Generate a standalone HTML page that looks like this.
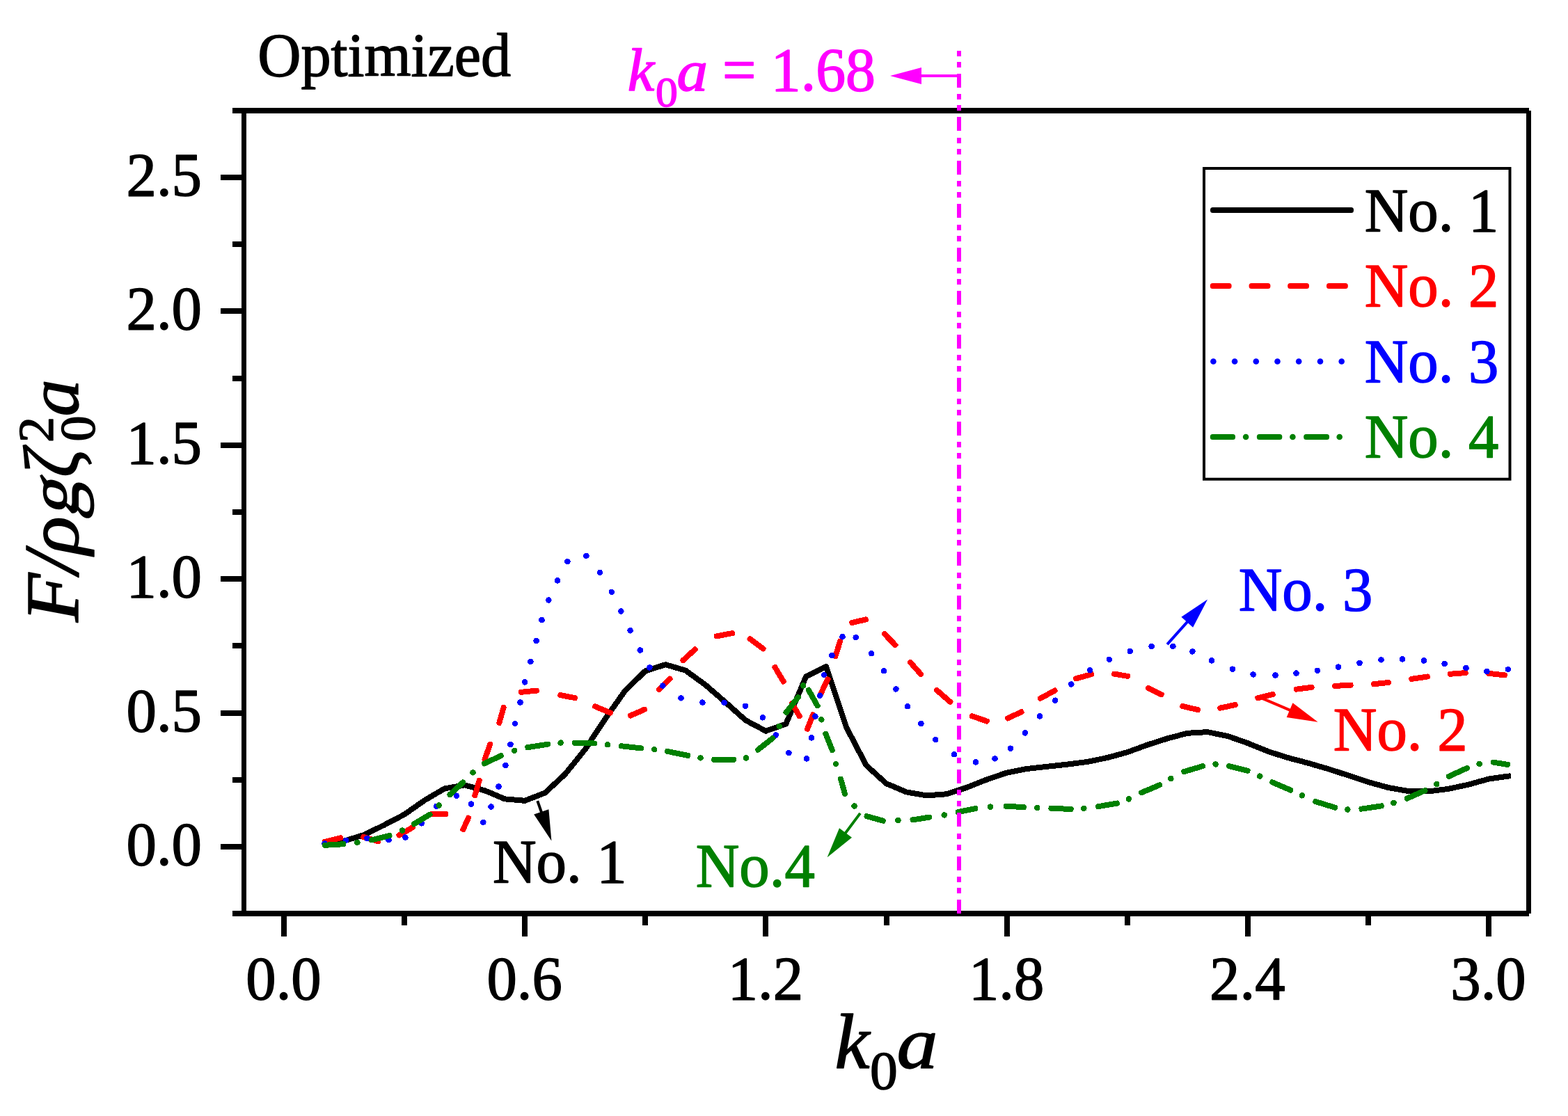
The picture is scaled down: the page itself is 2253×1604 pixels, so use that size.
<!DOCTYPE html>
<html lang="en"><head><meta charset="utf-8"><title>Optimized</title>
<style>html,body{margin:0;padding:0;background:#fff}body{width:2253px;height:1604px;overflow:hidden}svg{display:block}text{font-family:'Liberation Serif', serif;stroke-width:1.5;paint-order:stroke fill;stroke-linejoin:round}</style></head><body>
<svg width="2253" height="1604" viewBox="0 0 2253 1604" role="img" aria-label="Optimized: F/rho g zeta0^2 a versus k0 a for No. 1 to No. 4">
<rect x="0" y="0" width="2253" height="1604" fill="#fff"/>
<g id="curves" shape-rendering="crispEdges">
<polyline points="465.7,1213.5 494.6,1208.6 523.4,1199.9 552.2,1185.7 581.1,1170.6 610.0,1150.3 638.8,1133.4 667.7,1128.4 696.5,1136.2 725.4,1148.4 754.2,1150.8 783.0,1139.6 811.9,1112.8 840.8,1077.0 869.6,1033.2 898.5,992.3 927.3,964.4 956.2,955.2 985.0,963.6 1013.9,984.6 1042.7,1009.6 1071.6,1035.4 1100.4,1050.7 1129.2,1040.6 1158.1,972.5 1187.0,958.2 1215.8,1044.7 1244.7,1100.0 1273.5,1126.2 1302.4,1138.4 1331.2,1143.4 1360.1,1141.3 1388.9,1131.9 1417.8,1120.5 1446.6,1110.6 1475.5,1105.0 1504.3,1101.8 1533.2,1098.7 1562.0,1095.0 1590.9,1089.1 1619.7,1081.2 1648.6,1070.6 1677.4,1061.4 1706.2,1053.8 1735.1,1052.1 1764.0,1058.0 1792.8,1068.1 1821.7,1079.9 1850.5,1089.1 1879.4,1096.7 1908.2,1105.1 1937.1,1114.4 1965.9,1124.0 1994.8,1132.0 2023.6,1137.1 2052.4,1137.5 2081.3,1133.8 2110.2,1127.6 2139.0,1119.6 2167.9,1115.5 2170.9,1115.1" fill="none" stroke="#000" stroke-width="8.00" stroke-linejoin="round" stroke-linecap="butt"/>
<g id="red">
<rect x="463.0" y="1206.8" width="30.9" height="8.00" rx="3.5" fill="#ff0000" transform="rotate(-14.04 463.0 1210.8)"/>
<rect x="518.5" y="1197.8" width="29.8" height="8.00" rx="3.5" fill="#ff0000" transform="rotate(16.98 518.5 1201.8)"/>
<rect x="570.3" y="1198.4" width="29.8" height="8.00" rx="3.5" fill="#ff0000" transform="rotate(-30.44 570.3 1202.4)"/>
<rect x="616.0" y="1166.0" width="28.2" height="8.00" rx="3.5" fill="#ff0000" transform="rotate(0.00 616.0 1170.0)"/>
<rect x="663.9" y="1191.5" width="25.8" height="8.00" rx="3.5" fill="#ff0000" transform="rotate(-65.52 663.9 1195.5)"/>
<rect x="681.3" y="1143.0" width="30.0" height="8.00" rx="3.5" fill="#ff0000" transform="rotate(-73.56 681.3 1147.0)"/>
<rect x="695.3" y="1090.5" width="30.3" height="8.00" rx="3.5" fill="#ff0000" transform="rotate(-70.13 695.3 1094.5)"/>
<rect x="716.3" y="1038.7" width="30.7" height="8.00" rx="3.5" fill="#ff0000" transform="rotate(-74.20 716.3 1042.7)"/>
<rect x="745.2" y="991.2" width="29.7" height="8.00" rx="3.5" fill="#ff0000" transform="rotate(-5.81 745.2 995.2)"/>
<rect x="801.3" y="994.4" width="29.0" height="8.00" rx="3.5" fill="#ff0000" transform="rotate(10.73 801.3 998.4)"/>
<rect x="851.6" y="1009.9" width="31.4" height="8.00" rx="3.5" fill="#ff0000" transform="rotate(22.65 851.6 1013.9)"/>
<rect x="902.4" y="1026.1" width="29.7" height="8.00" rx="3.5" fill="#ff0000" transform="rotate(-23.63 902.4 1030.1)"/>
<rect x="944.4" y="989.8" width="29.4" height="8.00" rx="3.5" fill="#ff0000" transform="rotate(-45.00 944.4 993.8)"/>
<rect x="978.6" y="947.7" width="31.1" height="8.00" rx="3.5" fill="#ff0000" transform="rotate(-42.52 978.6 951.7)"/>
<rect x="1025.8" y="911.1" width="30.6" height="8.00" rx="3.5" fill="#ff0000" transform="rotate(-10.72 1025.8 915.1)"/>
<rect x="1074.6" y="912.0" width="31.2" height="8.00" rx="3.5" fill="#ff0000" transform="rotate(36.54 1074.6 916.0)"/>
<rect x="1111.6" y="951.7" width="31.5" height="8.00" rx="3.5" fill="#ff0000" transform="rotate(59.44 1111.6 955.7)"/>
<rect x="1136.2" y="1003.6" width="28.9" height="8.00" rx="3.5" fill="#ff0000" transform="rotate(60.16 1136.2 1007.6)"/>
<rect x="1158.6" y="1047.3" width="29.8" height="8.00" rx="3.5" fill="#ff0000" transform="rotate(-68.34 1158.6 1051.3)"/>
<rect x="1177.5" y="996.8" width="31.1" height="8.00" rx="3.5" fill="#ff0000" transform="rotate(-64.09 1177.5 1000.8)"/>
<rect x="1199.2" y="942.8" width="29.9" height="8.00" rx="3.5" fill="#ff0000" transform="rotate(-72.47 1199.2 946.8)"/>
<rect x="1220.5" y="891.8" width="27.8" height="8.00" rx="3.5" fill="#ff0000" transform="rotate(-12.89 1220.5 895.8)"/>
<rect x="1268.1" y="904.2" width="30.1" height="8.00" rx="3.5" fill="#ff0000" transform="rotate(45.94 1268.1 908.2)"/>
<rect x="1305.4" y="945.1" width="30.7" height="8.00" rx="3.5" fill="#ff0000" transform="rotate(48.30 1305.4 949.1)"/>
<rect x="1343.1" y="985.4" width="33.4" height="8.00" rx="3.5" fill="#ff0000" transform="rotate(41.23 1343.1 989.4)"/>
<rect x="1393.0" y="1024.0" width="30.1" height="8.00" rx="3.5" fill="#ff0000" transform="rotate(18.98 1393.0 1028.0)"/>
<rect x="1444.7" y="1030.0" width="29.1" height="8.00" rx="3.5" fill="#ff0000" transform="rotate(-25.24 1444.7 1034.0)"/>
<rect x="1491.3" y="1001.8" width="31.4" height="8.00" rx="3.5" fill="#ff0000" transform="rotate(-28.77 1491.3 1005.8)"/>
<rect x="1542.3" y="972.4" width="31.0" height="8.00" rx="3.5" fill="#ff0000" transform="rotate(-15.74 1542.3 976.4)"/>
<rect x="1597.4" y="964.0" width="26.8" height="8.00" rx="3.5" fill="#ff0000" transform="rotate(9.67 1597.4 968.0)"/>
<rect x="1646.5" y="983.3" width="28.6" height="8.00" rx="3.5" fill="#ff0000" transform="rotate(26.12 1646.5 987.3)"/>
<rect x="1695.5" y="1010.2" width="30.1" height="8.00" rx="3.5" fill="#ff0000" transform="rotate(13.07 1695.5 1014.2)"/>
<rect x="1749.3" y="1014.5" width="30.0" height="8.00" rx="3.5" fill="#ff0000" transform="rotate(-12.13 1749.3 1018.5)"/>
<rect x="1803.6" y="1000.1" width="29.7" height="8.00" rx="3.5" fill="#ff0000" transform="rotate(-13.62 1803.6 1004.1)"/>
<rect x="1858.8" y="987.2" width="30.0" height="8.00" rx="3.5" fill="#ff0000" transform="rotate(-7.48 1858.8 991.2)"/>
<rect x="1914.3" y="982.1" width="30.3" height="8.00" rx="3.5" fill="#ff0000" transform="rotate(-3.02 1914.3 986.1)"/>
<rect x="1970.2" y="979.6" width="28.8" height="8.00" rx="3.5" fill="#ff0000" transform="rotate(-5.99 1970.2 983.6)"/>
<rect x="2024.4" y="972.4" width="30.6" height="8.00" rx="3.5" fill="#ff0000" transform="rotate(-8.26 2024.4 976.4)"/>
<rect x="2080.2" y="965.0" width="29.5" height="8.00" rx="3.5" fill="#ff0000" transform="rotate(-4.28 2080.2 969.0)"/>
<rect x="2135.1" y="963.5" width="30.8" height="8.00" rx="3.5" fill="#ff0000" transform="rotate(5.97 2135.1 967.5)"/>
</g>
<g id="blue" fill="#0000ff">
<circle cx="466.5" cy="1212.3" r="4.30"/>
<circle cx="497.1" cy="1207.9" r="4.30"/>
<circle cx="527.5" cy="1204.8" r="4.30"/>
<circle cx="558.5" cy="1207.2" r="4.30"/>
<circle cx="582.4" cy="1203.6" r="4.30"/>
<circle cx="605.9" cy="1183.3" r="4.30"/>
<circle cx="627.1" cy="1158.8" r="4.30"/>
<circle cx="655.8" cy="1143.7" r="4.30"/>
<circle cx="676.9" cy="1155.6" r="4.30"/>
<circle cx="694.3" cy="1181.8" r="4.30"/>
<circle cx="705.6" cy="1159.5" r="4.30"/>
<circle cx="716.5" cy="1130.5" r="4.30"/>
<circle cx="726.5" cy="1100.0" r="4.30"/>
<circle cx="733.5" cy="1069.9" r="4.30"/>
<circle cx="740.0" cy="1040.1" r="4.30"/>
<circle cx="747.5" cy="1009.5" r="4.30"/>
<circle cx="754.2" cy="980.4" r="4.30"/>
<circle cx="762.4" cy="950.8" r="4.30"/>
<circle cx="770.6" cy="921.0" r="4.30"/>
<circle cx="778.5" cy="891.1" r="4.30"/>
<circle cx="788.4" cy="862.5" r="4.30"/>
<circle cx="800.9" cy="834.4" r="4.30"/>
<circle cx="815.4" cy="807.2" r="4.30"/>
<circle cx="842.4" cy="798.8" r="4.30"/>
<circle cx="862.0" cy="822.9" r="4.30"/>
<circle cx="878.8" cy="850.8" r="4.30"/>
<circle cx="892.4" cy="878.5" r="4.30"/>
<circle cx="905.6" cy="906.3" r="4.30"/>
<circle cx="919.8" cy="934.5" r="4.30"/>
<circle cx="933.4" cy="959.4" r="4.30"/>
<circle cx="952.3" cy="985.6" r="4.30"/>
<circle cx="978.5" cy="1003.4" r="4.30"/>
<circle cx="1009.4" cy="1009.6" r="4.30"/>
<circle cx="1040.6" cy="1009.8" r="4.30"/>
<circle cx="1071.0" cy="1014.8" r="4.30"/>
<circle cx="1095.8" cy="1031.3" r="4.30"/>
<circle cx="1114.7" cy="1056.4" r="4.30"/>
<circle cx="1133.4" cy="1082.2" r="4.30"/>
<circle cx="1158.9" cy="1090.4" r="4.30"/>
<circle cx="1165.9" cy="1060.4" r="4.30"/>
<circle cx="1171.4" cy="1029.6" r="4.30"/>
<circle cx="1178.3" cy="999.7" r="4.30"/>
<circle cx="1184.0" cy="970.1" r="4.30"/>
<circle cx="1195.5" cy="942.0" r="4.30"/>
<circle cx="1210.5" cy="915.2" r="4.30"/>
<circle cx="1229.7" cy="916.2" r="4.30"/>
<circle cx="1252.1" cy="939.2" r="4.30"/>
<circle cx="1270.0" cy="964.2" r="4.30"/>
<circle cx="1287.4" cy="990.4" r="4.30"/>
<circle cx="1304.0" cy="1015.2" r="4.30"/>
<circle cx="1323.4" cy="1040.1" r="4.30"/>
<circle cx="1344.2" cy="1063.1" r="4.30"/>
<circle cx="1371.0" cy="1084.3" r="4.30"/>
<circle cx="1402.0" cy="1095.4" r="4.30"/>
<circle cx="1429.5" cy="1090.3" r="4.30"/>
<circle cx="1451.9" cy="1075.7" r="4.30"/>
<circle cx="1472.8" cy="1053.4" r="4.30"/>
<circle cx="1493.9" cy="1029.4" r="4.30"/>
<circle cx="1516.2" cy="1006.7" r="4.30"/>
<circle cx="1539.3" cy="983.4" r="4.30"/>
<circle cx="1566.2" cy="963.3" r="4.30"/>
<circle cx="1593.8" cy="947.8" r="4.30"/>
<circle cx="1623.8" cy="936.0" r="4.30"/>
<circle cx="1654.6" cy="928.9" r="4.30"/>
<circle cx="1685.4" cy="928.8" r="4.30"/>
<circle cx="1713.4" cy="936.4" r="4.30"/>
<circle cx="1741.0" cy="949.4" r="4.30"/>
<circle cx="1770.9" cy="961.7" r="4.30"/>
<circle cx="1800.6" cy="969.4" r="4.30"/>
<circle cx="1832.5" cy="970.5" r="4.30"/>
<circle cx="1862.5" cy="967.6" r="4.30"/>
<circle cx="1892.9" cy="963.8" r="4.30"/>
<circle cx="1923.0" cy="958.7" r="4.30"/>
<circle cx="1953.5" cy="952.8" r="4.30"/>
<circle cx="1984.5" cy="948.3" r="4.30"/>
<circle cx="2014.9" cy="947.4" r="4.30"/>
<circle cx="2045.9" cy="949.5" r="4.30"/>
<circle cx="2075.7" cy="954.0" r="4.30"/>
<circle cx="2106.5" cy="960.1" r="4.30"/>
<circle cx="2136.4" cy="964.9" r="4.30"/>
<circle cx="2166.9" cy="962.0" r="4.30"/>
</g>
<g id="green">
<rect x="463.0" y="1211.0" width="34.5" height="8.00" rx="3.5" fill="#008000" transform="rotate(-3.33 463.0 1215.0)"/>
<circle cx="513.4" cy="1210.8" r="4.30" fill="#008000"/>
<rect x="530.3" y="1204.2" width="34.0" height="8.00" rx="3.5" fill="#008000" transform="rotate(-13.95 530.3 1208.2)"/>
<circle cx="578.0" cy="1193.6" r="4.30" fill="#008000"/>
<rect x="591.4" y="1182.3" width="34.2" height="8.00" rx="3.5" fill="#008000" transform="rotate(-30.76 591.4 1186.3)"/>
<circle cx="630.7" cy="1157.5" r="4.30" fill="#008000"/>
<rect x="643.6" y="1140.8" width="33.5" height="8.00" rx="3.5" fill="#008000" transform="rotate(-43.18 643.6 1144.8)"/>
<circle cx="679.5" cy="1110.4" r="4.30" fill="#008000"/>
<rect x="692.4" y="1095.0" width="34.0" height="8.00" rx="3.5" fill="#008000" transform="rotate(-25.06 692.4 1099.0)"/>
<circle cx="739.2" cy="1078.8" r="4.30" fill="#008000"/>
<rect x="754.4" y="1070.8" width="37.0" height="8.00" rx="3.5" fill="#008000" transform="rotate(-8.85 754.4 1074.8)"/>
<circle cx="805.6" cy="1067.6" r="4.30" fill="#008000"/>
<rect x="822.1" y="1063.6" width="35.8" height="8.00" rx="3.5" fill="#008000" transform="rotate(1.60 822.1 1067.6)"/>
<circle cx="873.0" cy="1070.2" r="4.30" fill="#008000"/>
<rect x="889.2" y="1067.9" width="36.0" height="8.00" rx="3.5" fill="#008000" transform="rotate(6.22 889.2 1071.9)"/>
<circle cx="940.2" cy="1077.2" r="4.30" fill="#008000"/>
<rect x="955.2" y="1075.1" width="37.8" height="8.00" rx="3.5" fill="#008000" transform="rotate(11.61 955.2 1079.1)"/>
<circle cx="1006.5" cy="1089.4" r="4.30" fill="#008000"/>
<rect x="1022.3" y="1087.8" width="35.8" height="8.00" rx="3.5" fill="#008000" transform="rotate(0.00 1022.3 1091.8)"/>
<circle cx="1072.0" cy="1089.4" r="4.30" fill="#008000"/>
<rect x="1086.0" y="1076.1" width="34.8" height="8.00" rx="3.5" fill="#008000" transform="rotate(-38.35 1086.0 1080.1)"/>
<circle cx="1119.7" cy="1043.8" r="4.30" fill="#008000"/>
<rect x="1127.3" y="1023.0" width="35.5" height="8.00" rx="3.5" fill="#008000" transform="rotate(-52.10 1127.3 1027.0)"/>
<circle cx="1154.2" cy="985.4" r="4.30" fill="#008000"/>
<rect x="1159.9" y="984.3" width="33.7" height="8.00" rx="3.5" fill="#008000" transform="rotate(60.70 1159.9 988.3)"/>
<circle cx="1180.3" cy="1034.3" r="4.30" fill="#008000"/>
<rect x="1185.0" y="1047.2" width="32.8" height="8.00" rx="3.5" fill="#008000" transform="rotate(68.13 1185.0 1051.2)"/>
<circle cx="1201.0" cy="1098.0" r="4.30" fill="#008000"/>
<rect x="1207.0" y="1111.9" width="30.0" height="8.00" rx="3.5" fill="#008000" transform="rotate(74.34 1207.0 1115.9)"/>
<circle cx="1227.6" cy="1158.5" r="4.30" fill="#008000"/>
<rect x="1241.7" y="1168.1" width="32.0" height="8.00" rx="3.5" fill="#008000" transform="rotate(15.60 1241.7 1172.1)"/>
<circle cx="1290.4" cy="1179.0" r="4.30" fill="#008000"/>
<rect x="1307.6" y="1175.0" width="32.0" height="8.00" rx="3.5" fill="#008000" transform="rotate(-8.99 1307.6 1179.0)"/>
<circle cx="1356.7" cy="1171.4" r="4.30" fill="#008000"/>
<rect x="1372.9" y="1163.8" width="32.9" height="8.00" rx="3.5" fill="#008000" transform="rotate(-11.38 1372.9 1167.8)"/>
<circle cx="1422.9" cy="1159.6" r="4.30" fill="#008000"/>
<rect x="1441.7" y="1154.5" width="33.3" height="8.00" rx="3.5" fill="#008000" transform="rotate(3.09 1441.7 1158.5)"/>
<circle cx="1490.2" cy="1161.0" r="4.30" fill="#008000"/>
<rect x="1506.5" y="1157.5" width="36.2" height="8.00" rx="3.5" fill="#008000" transform="rotate(2.69 1506.5 1161.5)"/>
<circle cx="1557.3" cy="1161.8" r="4.30" fill="#008000"/>
<rect x="1574.3" y="1155.8" width="35.0" height="8.00" rx="3.5" fill="#008000" transform="rotate(-9.70 1574.3 1159.8)"/>
<circle cx="1621.8" cy="1148.4" r="4.30" fill="#008000"/>
<rect x="1636.6" y="1136.8" width="36.0" height="8.00" rx="3.5" fill="#008000" transform="rotate(-23.07 1636.6 1140.8)"/>
<circle cx="1682.3" cy="1119.1" r="4.30" fill="#008000"/>
<rect x="1697.5" y="1106.2" width="35.7" height="8.00" rx="3.5" fill="#008000" transform="rotate(-16.45 1697.5 1110.2)"/>
<circle cx="1746.6" cy="1098.4" r="4.30" fill="#008000"/>
<rect x="1762.3" y="1096.1" width="35.2" height="8.00" rx="3.5" fill="#008000" transform="rotate(14.15 1762.3 1100.1)"/>
<circle cx="1810.3" cy="1115.6" r="4.30" fill="#008000"/>
<rect x="1824.6" y="1118.8" width="36.1" height="8.00" rx="3.5" fill="#008000" transform="rotate(23.30 1824.6 1122.8)"/>
<circle cx="1870.9" cy="1143.3" r="4.30" fill="#008000"/>
<rect x="1886.4" y="1146.9" width="37.1" height="8.00" rx="3.5" fill="#008000" transform="rotate(17.07 1886.4 1150.9)"/>
<circle cx="1936.3" cy="1163.5" r="4.30" fill="#008000"/>
<rect x="1952.5" y="1159.2" width="36.6" height="8.00" rx="3.5" fill="#008000" transform="rotate(-8.48 1952.5 1163.2)"/>
<circle cx="2002.5" cy="1153.9" r="4.30" fill="#008000"/>
<rect x="2018.1" y="1145.2" width="36.0" height="8.00" rx="3.5" fill="#008000" transform="rotate(-23.93 2018.1 1149.2)"/>
<circle cx="2064.2" cy="1127.0" r="4.30" fill="#008000"/>
<rect x="2078.3" y="1113.5" width="36.5" height="8.00" rx="3.5" fill="#008000" transform="rotate(-24.60 2078.3 1117.5)"/>
<circle cx="2125.6" cy="1097.8" r="4.30" fill="#008000"/>
<rect x="2142.1" y="1091.1" width="28.2" height="8.00" rx="3.5" fill="#008000" transform="rotate(8.96 2142.1 1095.1)"/>
</g>
</g>
<g id="axes" fill="#000" shape-rendering="crispEdges">
<rect x="334" y="155" width="1863" height="8"/>
<rect x="334" y="1309" width="1863" height="8"/>
<rect x="347" y="159" width="7" height="1154"/>
<rect x="2193" y="159" width="7" height="1154"/>
<rect x="317" y="1213.0" width="31" height="8"/>
<rect x="317" y="1021.0" width="31" height="8"/>
<rect x="317" y="828.0" width="31" height="8"/>
<rect x="317" y="636.0" width="31" height="8"/>
<rect x="317" y="443.0" width="31" height="8"/>
<rect x="317" y="251.0" width="31" height="8"/>
<rect x="334" y="1117.0" width="14" height="8"/>
<rect x="334" y="924.0" width="14" height="8"/>
<rect x="334" y="732.0" width="14" height="8"/>
<rect x="334" y="540.0" width="14" height="8"/>
<rect x="334" y="347.0" width="14" height="8"/>
<rect x="404.0" y="1313" width="8" height="33"/>
<rect x="750.0" y="1313" width="8" height="33"/>
<rect x="1096.0" y="1313" width="8" height="33"/>
<rect x="1443.0" y="1313" width="8" height="33"/>
<rect x="1789.0" y="1313" width="8" height="33"/>
<rect x="2135.0" y="1313" width="8" height="33"/>
<rect x="577.0" y="1313" width="8" height="16.5"/>
<rect x="923.0" y="1313" width="8" height="16.5"/>
<rect x="1270.0" y="1313" width="8" height="16.5"/>
<rect x="1616.0" y="1313" width="8" height="16.5"/>
<rect x="1962.0" y="1313" width="8" height="16.5"/>
</g>
<line x1="1378" y1="1313" x2="1378" y2="73" stroke="#ff00ff" stroke-width="6" stroke-dasharray="20 9 7.75 8.25 7.75 9.75" shape-rendering="crispEdges"/>
<line x1="1376" y1="109" x2="1320" y2="109" stroke="#ff00ff" stroke-width="4"/>
<polygon points="1279,109 1324,97 1324,121" fill="#ff00ff"/>
<text transform="translate(290.00,1243.00) scale(0.9750,1)" font-size="89.00" fill="#000" stroke="#000" text-anchor="end">0.0</text>
<text transform="translate(290.00,1050.60) scale(0.9750,1)" font-size="89.00" fill="#000" stroke="#000" text-anchor="end">0.5</text>
<text transform="translate(290.00,858.20) scale(0.9750,1)" font-size="89.00" fill="#000" stroke="#000" text-anchor="end">1.0</text>
<text transform="translate(290.00,665.80) scale(0.9750,1)" font-size="89.00" fill="#000" stroke="#000" text-anchor="end">1.5</text>
<text transform="translate(290.00,473.40) scale(0.9750,1)" font-size="89.00" fill="#000" stroke="#000" text-anchor="end">2.0</text>
<text transform="translate(290.00,281.00) scale(0.9750,1)" font-size="89.00" fill="#000" stroke="#000" text-anchor="end">2.5</text>
<text transform="translate(407.50,1436.00) scale(0.9750,1)" font-size="89.00" fill="#000" stroke="#000" text-anchor="middle">0.0</text>
<text transform="translate(753.70,1436.00) scale(0.9750,1)" font-size="89.00" fill="#000" stroke="#000" text-anchor="middle">0.6</text>
<text transform="translate(1099.90,1436.00) scale(0.9750,1)" font-size="89.00" fill="#000" stroke="#000" text-anchor="middle">1.2</text>
<text transform="translate(1446.10,1436.00) scale(0.9750,1)" font-size="89.00" fill="#000" stroke="#000" text-anchor="middle">1.8</text>
<text transform="translate(1792.30,1436.00) scale(0.9750,1)" font-size="89.00" fill="#000" stroke="#000" text-anchor="middle">2.4</text>
<text transform="translate(2138.50,1436.00) scale(0.9750,1)" font-size="89.00" fill="#000" stroke="#000" text-anchor="middle">3.0</text>
<text transform="translate(370.30,108.50) scale(0.9630,1)" font-size="89.50" fill="#000" stroke="#000">Optimized</text>
<text transform="translate(901.70,129.50) scale(1.0000,1)" font-size="86.50" fill="#ff00ff" stroke="#ff00ff" font-style="italic">k</text>
<text transform="translate(941.90,153.10) scale(1.0400,1)" font-size="61.30" fill="#ff00ff" stroke="#ff00ff">0</text>
<text transform="translate(972.40,129.50) scale(1.0810,1)" font-size="82.30" fill="#ff00ff" stroke="#ff00ff" font-style="italic">a</text>
<text transform="translate(1038.00,129.50) scale(0.9640,1)" font-size="89.00" fill="#ff00ff" stroke="#ff00ff">= 1.68</text>
<text transform="translate(1199.50,1535.00) scale(1.0110,1)" font-size="111.30" fill="#000" stroke="#000" font-style="italic">k</text>
<text transform="translate(1250.10,1565.10) scale(1.0080,1)" font-size="78.90" fill="#000" stroke="#000">0</text>
<text transform="translate(1288.40,1535.00) scale(1.1140,1)" font-size="106.00" fill="#000" stroke="#000" font-style="italic">a</text>
<g transform="translate(111.50,894.00) scale(0.9750,1) rotate(-90)" fill="#000" stroke="#000">
<text transform="translate(0.00,0.00) scale(1.0450,1)" font-size="110.00" font-style="italic">F</text>
<text transform="translate(69.60,0.00) scale(1.0000,1)" font-size="114.00" font-style="italic">/</text>
<text transform="translate(97.00,0.00) scale(1.0600,1)" font-size="108.00" font-style="italic">ρ</text>
<text transform="translate(148.60,0.00) scale(1.0000,1) skewX(-14)" font-size="108.00">g</text>
<text transform="translate(208.30,0.00) scale(0.8800,1)" font-size="114.00" font-style="italic">ζ</text>
<text transform="translate(258.00,-36.80) scale(1.0000,1)" font-size="74.00">2</text>
<text transform="translate(259.50,25.40) scale(1.0000,1)" font-size="74.00">0</text>
<text transform="translate(295.50,0.00) scale(0.9900,1)" font-size="107.40" font-style="italic">a</text>
</g>
<rect x="1730.0" y="242.0" width="439.5" height="446.7" fill="#fff" stroke="#000" stroke-width="4.0"/>
<rect x="1739.0" y="298.0" width="206.0" height="8.00" rx="3.5" fill="#000" transform="rotate(0.00 1739.0 302.0)"/>
<rect x="1738.8" y="407.0" width="30.8" height="8.00" rx="3.5" fill="#ff0000" transform="rotate(0.00 1738.8 411.0)"/>
<rect x="1794.6" y="407.0" width="30.8" height="8.00" rx="3.5" fill="#ff0000" transform="rotate(0.00 1794.6 411.0)"/>
<rect x="1850.2" y="407.0" width="30.8" height="8.00" rx="3.5" fill="#ff0000" transform="rotate(0.00 1850.2 411.0)"/>
<rect x="1906.0" y="407.0" width="30.8" height="8.00" rx="3.5" fill="#ff0000" transform="rotate(0.00 1906.0 411.0)"/>
<circle cx="1743.4" cy="519.5" r="4.30" fill="#0000ff"/>
<circle cx="1774.1" cy="519.5" r="4.30" fill="#0000ff"/>
<circle cx="1804.8" cy="519.5" r="4.30" fill="#0000ff"/>
<circle cx="1835.5" cy="519.5" r="4.30" fill="#0000ff"/>
<circle cx="1866.2" cy="519.5" r="4.30" fill="#0000ff"/>
<circle cx="1897.0" cy="519.5" r="4.30" fill="#0000ff"/>
<circle cx="1927.7" cy="519.5" r="4.30" fill="#0000ff"/>
<rect x="1738.8" y="624.0" width="36.2" height="8.00" rx="3.5" fill="#008000" transform="rotate(0.00 1738.8 628.0)"/>
<rect x="1805.9" y="624.0" width="36.4" height="8.00" rx="3.5" fill="#008000" transform="rotate(0.00 1805.9 628.0)"/>
<rect x="1873.2" y="624.0" width="36.8" height="8.00" rx="3.5" fill="#008000" transform="rotate(0.00 1873.2 628.0)"/>
<circle cx="1790.1" cy="628.0" r="4.30" fill="#008000"/>
<circle cx="1857.4" cy="628.0" r="4.30" fill="#008000"/>
<circle cx="1924.7" cy="628.0" r="4.30" fill="#008000"/>
<text transform="translate(1960.70,331.60) scale(0.9750,1)" font-size="89.00" fill="#000000" stroke="#000000">No. 1</text>
<text transform="translate(1960.70,440.20) scale(0.9750,1)" font-size="89.00" fill="#ff0000" stroke="#ff0000">No. 2</text>
<text transform="translate(1960.70,548.70) scale(0.9750,1)" font-size="89.00" fill="#0000ff" stroke="#0000ff">No. 3</text>
<text transform="translate(1960.70,657.20) scale(0.9750,1)" font-size="89.00" fill="#008000" stroke="#008000">No. 4</text>
<text transform="translate(707.90,1267.70) scale(0.9750,1)" font-size="89.00" fill="#000000" stroke="#000000">No. 1</text>
<text transform="translate(999.70,1274.00) scale(0.9750,1)" font-size="89.00" fill="#008000" stroke="#008000">No.4</text>
<text transform="translate(1779.70,877.40) scale(0.9750,1)" font-size="89.00" fill="#0000ff" stroke="#0000ff">No. 3</text>
<text transform="translate(1915.80,1078.20) scale(0.9750,1)" font-size="89.00" fill="#ff0000" stroke="#ff0000">No. 2</text>
<line x1="772.3" y1="1151.2" x2="778.5" y2="1168.8" stroke="#000000" stroke-width="4.0"/><polygon points="792.4,1208.4 767.2,1170.6 788.4,1163.2" fill="#000000"/>
<line x1="1236.0" y1="1168.9" x2="1213.8" y2="1198.6" stroke="#008000" stroke-width="4.0"/><polygon points="1188.6,1232.2 1206.0,1190.2 1224.0,1203.7" fill="#008000"/>
<line x1="1677.1" y1="926.1" x2="1707.1" y2="892.7" stroke="#0000ff" stroke-width="4.0"/><polygon points="1735.1,861.4 1714.1,901.7 1697.4,886.7" fill="#0000ff"/>
<line x1="1814.5" y1="1004.1" x2="1855.0" y2="1021.3" stroke="#ff0000" stroke-width="4.0"/><polygon points="1893.6,1037.8 1848.7,1030.9 1857.5,1010.2" fill="#ff0000"/>
</svg></body></html>
